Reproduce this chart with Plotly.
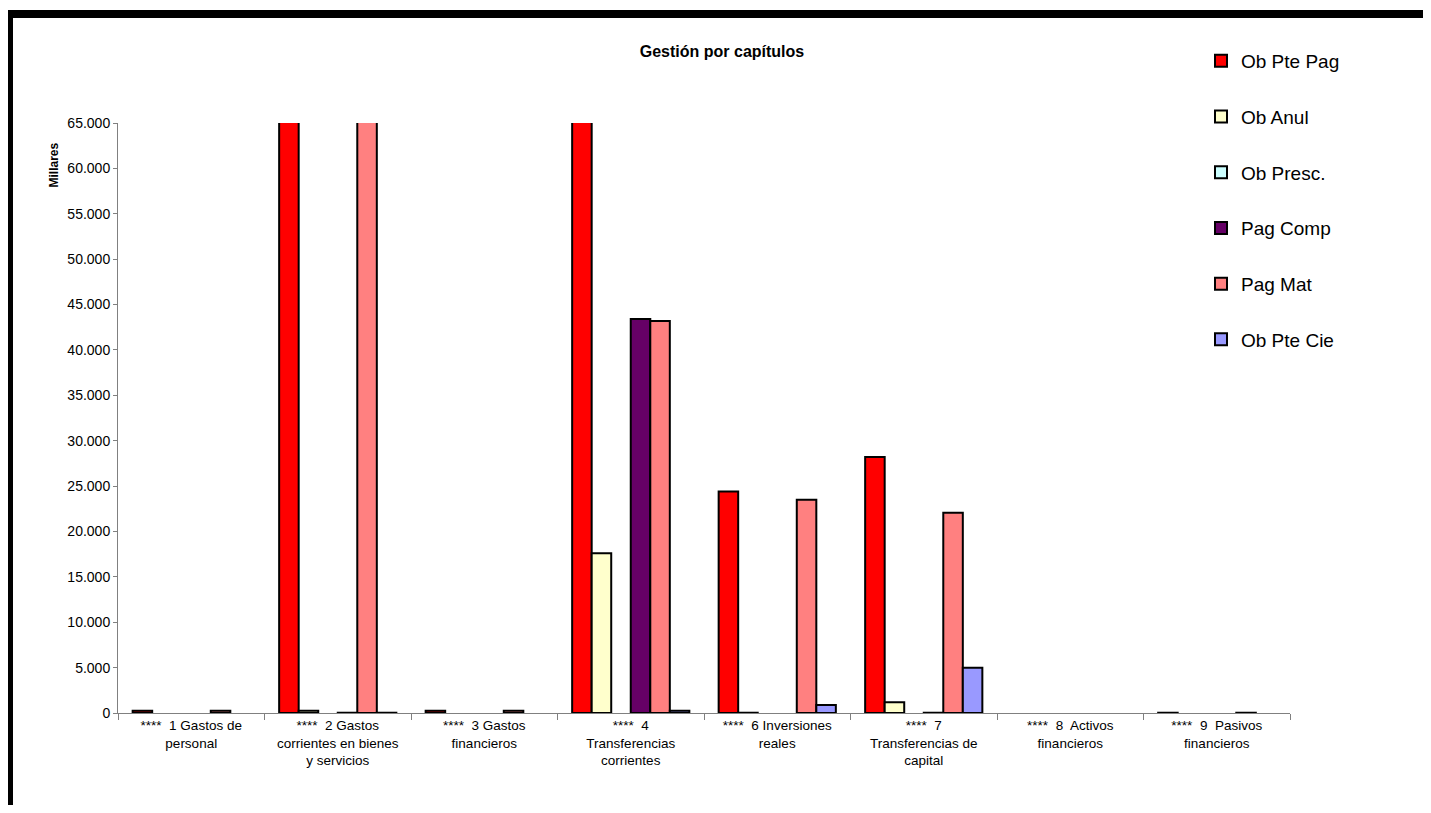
import plotly.graph_objects as go

# chart data (miles de euros), values above 65.000 are clipped by the axis
categories = [
    "****  1 Gastos de<br>personal",
    "****  2 Gastos<br>corrientes en bienes<br>y servicios",
    "****  3 Gastos<br>financieros",
    "****  4<br>Transferencias<br>corrientes",
    "****  6 Inversiones<br>reales",
    "****  7<br>Transferencias de<br>capital",
    "****  8  Activos<br>financieros",
    "****  9  Pasivos<br>financieros",
]
ob_pte_pag = [250, 150000, 250, 120000, 24400, 28200, None, 30]
ob_anul = [None, 250, None, 17600, 30, 1180, None, None]
ob_presc = [None, None, None, None, None, None, None, None]
pag_comp = [None, 30, None, 43400, None, 30, None, None]
pag_mat = [250, 110000, 250, 43200, 23500, 22050, None, 30]
ob_pte_cie = [None, 30, None, 250, 880, 4990, None, None]

series = [
    ("Ob Pte Pag", ob_pte_pag, "#FF0000"),
    ("Ob Anul", ob_anul, "#FFFFCC"),
    ("Ob Presc.", ob_presc, "#CCFFFF"),
    ("Pag Comp", pag_comp, "#660066"),
    ("Pag Mat", pag_mat, "#FF8080"),
    ("Ob Pte Cie", ob_pte_cie, "#9999FF"),
]

FONT = "Liberation Sans, Arial, sans-serif"

fig = go.Figure()
for i, (name, vals, color) in enumerate(series):
    fig.add_trace(go.Bar(
        x=categories, y=vals, name=name, legendgroup=f"g{i}",
        marker=dict(color=color, line=dict(color="black", width=2)),
    ))

# the page body has an 8px margin, so the figure sits at (8, 8) in the window
OFF = 8
FIG_W, FIG_H = 1431 - 2 * OFF, 813 - 2 * OFF
# plot area in window pixels
X0, X1, Y0, Y1 = 118, 1290, 123, 713
W, H = X1 - X0, Y1 - Y0

def px_x(x):
    return (x - X0) / W

def px_y(y):
    return (Y1 - y) / H

fig.update_layout(
    width=FIG_W, height=FIG_H,
    margin=dict(l=X0 - OFF, r=FIG_W + OFF - X1, t=Y0 - OFF, b=FIG_H + OFF - Y1),
    paper_bgcolor="white", plot_bgcolor="white",
    font=dict(family=FONT, color="black", size=12),
    separators=",.",
    barmode="group", bargap=0.2, bargroupgap=0,
    showlegend=True,
    legend=dict(
        x=px_x(1201), y=px_y(42), xanchor="left", yanchor="top",
        font=dict(size=19, family=FONT), tracegroupgap=28,
        bgcolor="rgba(0,0,0,0)", itemwidth=30,
    ),
    title=dict(
        text="<b>Gestión por capítulos</b>", xref="paper", x=px_x(722),
        xanchor="center", y=1 - (51 - OFF) / FIG_H, yanchor="middle",
        font=dict(size=16, family=FONT),
    ),
    xaxis=dict(
        showline=True, linecolor="#808080", linewidth=1,
        ticks="outside", tickson="boundaries", ticklen=6, tickcolor="#808080",
        tickfont=dict(size=13.5), showgrid=False,
    ),
    yaxis=dict(
        range=[0, 65000], dtick=5000, tickformat=",d",
        showline=True, linecolor="#808080", linewidth=1,
        ticks="outside", ticklen=4, tickcolor="#808080",
        tickfont=dict(size=14), showgrid=False, zeroline=False,
    ),
)

fig.add_annotation(
    xref="paper", yref="paper", x=px_x(45), y=px_y(141),
    text="<b>Millares</b>", textangle=-90, showarrow=False,
    font=dict(size=12, family=FONT),
)

# thick black frame on top and left edges
fig.add_shape(type="rect", xref="paper", yref="paper",
              x0=px_x(OFF), x1=px_x(1431), y0=px_y(18), y1=px_y(10),
              fillcolor="black", line=dict(width=0), layer="above")
fig.add_shape(type="rect", xref="paper", yref="paper",
              x0=px_x(OFF), x1=px_x(13), y0=px_y(813), y1=px_y(10),
              fillcolor="black", line=dict(width=0), layer="above")

fig.write_html("out.html")
